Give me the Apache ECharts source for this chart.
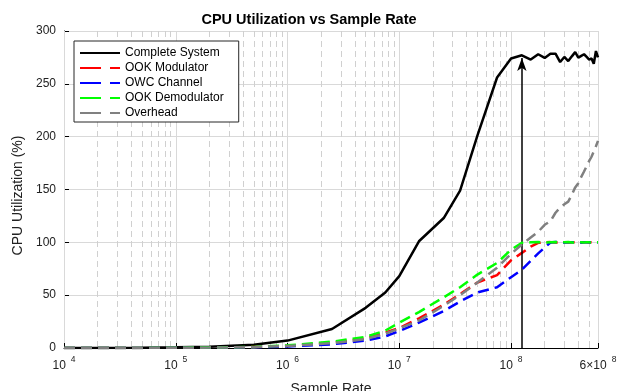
<!DOCTYPE html>
<html>
<head>
<meta charset="utf-8">
<script src="https://cdn.jsdelivr.net/npm/echarts@6/dist/echarts.min.js"></script>
<style>
  html, body { margin: 0; padding: 0; background: #fff; }
  #chart { width: 618px; height: 391px; }
</style>
</head>
<body>
<div id="chart"></div>
<script>
const sampleRates = [1e4, 2e4, 5e4, 1e5, 2e5, 5e5, 1e6, 2.5e6, 5e6, 7.5e6, 1e7, 1.5e7, 2.5e7, 3.5e7, 5e7, 7.5e7,
  1e8, 1.25e8, 1.5e8, 1.75e8, 2e8, 2.25e8, 2.5e8, 2.75e8, 3e8, 3.25e8, 3.5e8, 3.75e8, 4e8, 4.25e8, 4.5e8,
  4.75e8, 5e8, 5.25e8, 5.5e8, 5.75e8, 6e8];

const completeSystem = [0, 0.1, 0.3, 0.6, 1.2, 3, 7, 18, 38, 52.5, 68, 101, 123, 149, 201, 256,
  274, 277, 273, 278, 274.5, 278.5, 278.5, 270.6, 275.4, 271.6, 276, 280, 274.8, 276.5, 278,
  275.5, 273, 274, 269, 281, 275];
const ookModulator = [0, 0, 0.1, 0.2, 0.4, 0.9, 2, 5, 9, 14.5, 19, 28, 41, 51, 62, 69,
  83, 90, 96, 99.5, 100, 100.2, 99.8, 100, 100.1, 99.9, 100, 100, 100.2, 99.9, 100,
  100, 99.8, 100.1, 100, 100, 100];
const owcChannel = [0, 0, 0.1, 0.2, 0.3, 0.7, 1.5, 3.5, 7, 11, 16, 24, 35, 44, 52.5, 57.5,
  67, 74, 82.5, 89.5, 95, 99.8, 100.3, 100, 99.9, 100.1, 100, 100.2, 100, 99.9, 100,
  100.1, 100, 99.9, 100, 100.1, 100];
const ookDemodulator = [0, 0.1, 0.1, 0.3, 0.5, 1, 2.5, 6, 10.5, 16.5, 24, 34, 48, 57.5, 69.5, 80.5,
  93, 99.5, 100, 100.3, 99.7, 100, 100.2, 99.9, 100, 100.3, 99.8, 100, 100.1, 100, 99.8,
  100.2, 100, 99.9, 100.1, 100, 100];
const overhead = [0, 0, 0.1, 0.2, 0.4, 0.8, 2, 4.5, 8.5, 13.5, 18.5, 26, 40, 50, 62, 76,
  89, 98, 104.6, 110, 116.6, 120, 128, 133, 136, 138.5, 145, 152, 156, 162, 167,
  172, 177, 181, 186, 191, 196];

const majorTicks = [1e4, 1e5, 1e6, 1e7, 1e8, 6e8];
const minorTicks = [2e4, 3e4, 4e4, 5e4, 6e4, 7e4, 8e4, 9e4,
  2e5, 3e5, 4e5, 5e5, 6e5, 7e5, 8e5, 9e5,
  2e6, 3e6, 4e6, 5e6, 6e6, 7e6, 8e6, 9e6,
  2e7, 3e7, 4e7, 5e7, 6e7, 7e7, 8e7, 9e7,
  2e8, 3e8, 4e8, 5e8];

const arrowRate = 1.25e8;
const arrowTip = 274.5;

const seriesNames = ["Complete System", "OOK Modulator", "OWC Channel", "OOK Demodulator", "Overhead"];
const seriesColors = ["#000000", "#ff0000", "#0000ff", "#00ff00", "#808080"];
const seriesValues = [completeSystem, ookModulator, owcChannel, ookDemodulator, overhead];

const font = '"Liberation Sans", Arial, sans-serif';
const gridTop = 31;
const gridBottom = 43;
const plotHeight = 391 - gridTop - gridBottom;

function sciLabel(v) {
  const exp = Math.floor(Math.log10(v) + 1e-9);
  const mant = Math.round(v / Math.pow(10, exp));
  return (mant === 1 ? "" : mant + "×") + "10{sup|" + exp + "}";
}

const chart = echarts.init(document.getElementById("chart"), null, { renderer: "canvas" });

const series = seriesNames.map((name, i) => ({
  name,
  type: "line",
  xAxisIndex: 0,
  symbol: "none",
  silent: true,
  data: sampleRates.map((r, j) => [r, seriesValues[i][j]]),
  lineStyle: {
    color: seriesColors[i],
    width: 2.5,
    type: i === 0 ? "solid" : [11, 6],
    cap: "butt",
  },
  itemStyle: { color: seriesColors[i] },
  z: 3 + i,
}));

series[0].markLine = {
  silent: true,
  animation: false,
  symbol: ["none", "arrow"],
  symbolSize: [7, 13],
  lineStyle: { color: "#000", width: 1.5, type: "solid" },
  label: { show: false },
  emphasis: { disabled: true },
  data: [[{ coord: [arrowRate, 0] }, { coord: [arrowRate, arrowTip] }]],
};

const option = {
  animation: false,
  backgroundColor: "#fff",
  textStyle: { fontFamily: font, color: "#222" },
  title: {
    text: "CPU Utilization vs Sample Rate",
    left: "center",
    top: 12,
    padding: 0,
    textStyle: { fontFamily: font, fontSize: 14.5, fontWeight: "bold", color: "#000" },
  },
  legend: {
    orient: "vertical",
    left: 74,
    top: 41,
    padding: [6, 15, 3, 5],
    itemWidth: 40,
    itemHeight: 12,
    itemGap: 3,
    backgroundColor: "#fff",
    borderColor: "#262626",
    borderWidth: 1,
    itemStyle: { opacity: 0 },
    textStyle: { fontFamily: font, fontSize: 12, color: "#000" },
    data: seriesNames.map((name, i) => (i === 0 ? { name } : { name, lineStyle: { type: [21, 9] } })),
  },
  grid: { left: 64, right: 20, top: gridTop, bottom: gridBottom, outerBoundsMode: "none", containLabel: false },
  xAxis: [
    {
      type: "log",
      position: "bottom",
      min: 1e4,
      max: 6e8,
      name: "Sample Rate",
      nameLocation: "middle",
      nameGap: 23,
      nameTextStyle: { fontFamily: font, fontSize: 14, color: "#222" },
      axisLine: { lineStyle: { color: "#000", width: 1 } },
      axisTick: { inside: true, length: 5, customValues: majorTicks, lineStyle: { color: "#000" } },
      axisLabel: {
        customValues: majorTicks,
        margin: 7,
        fontSize: 12,
        lineHeight: 22,
        color: "#222",
        formatter: sciLabel,
        rich: { sup: { fontSize: 8.5, lineHeight: 10, verticalAlign: "top", padding: [0, 0, 0, 5], color: "#222" } },
      },
      splitLine: { show: true, lineStyle: { color: "#d9d9d9", width: 1 } },
      z: 2,
    },
    {
      // minor grid: ECharts puts a second x axis on top, so push it down onto the bottom edge
      type: "log",
      position: "top",
      offset: -plotHeight,
      min: 1e4,
      max: 6e8,
      axisLine: { show: false },
      axisTick: { inside: false, length: 3, customValues: minorTicks, lineStyle: { color: "#d0d0d0" } },
      axisLabel: { show: false },
      splitLine: { show: true, lineStyle: { color: "#d0d0d0", width: 1, type: [6, 4] } },
      z: 1,
    },
  ],
  yAxis: {
    type: "value",
    min: 0,
    max: 300,
    interval: 50,
    name: "CPU Utilization (%)",
    nameLocation: "middle",
    nameGap: 34,
    nameTextStyle: { fontFamily: font, fontSize: 14, color: "#222", padding: [0, 12, 0, 0] },
    axisLine: { show: true, lineStyle: { color: "#000", width: 1 } },
    axisTick: { show: true, inside: true, length: 5, lineStyle: { color: "#000" } },
    axisLabel: { margin: 8, fontSize: 12, color: "#222" },
    splitLine: { show: true, lineStyle: { color: "#d9d9d9", width: 1 } },
  },
  series,
};

chart.setOption(option);
</script>
</body>
</html>
